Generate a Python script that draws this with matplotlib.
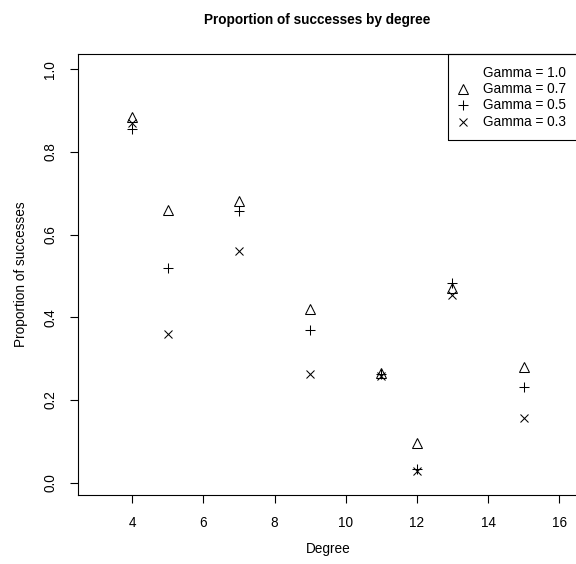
import matplotlib
matplotlib.use("Agg")
import matplotlib.pyplot as plt
from matplotlib.patches import Rectangle
from matplotlib.lines import Line2D

plt.rcParams['font.family'] = ['Liberation Sans', 'DejaVu Sans']

degrees = [4, 5, 7, 9, 11, 12, 13, 15]
gamma_07 = [0.885, 0.659, 0.680, 0.421, 0.265, 0.096, 0.470, 0.280]
gamma_05 = [0.855, 0.519, 0.658, 0.369, 0.262, 0.032, 0.483, 0.232]
gamma_03 = [0.870, 0.359, 0.559, 0.262, 0.258, 0.027, 0.453, 0.157]
legend_labels = ["Gamma = 1.0", "Gamma = 0.7", "Gamma = 0.5", "Gamma = 0.3"]
x_ticks = [4, 6, 8, 10, 12, 14, 16]
y_ticks = [0.0, 0.2, 0.4, 0.6, 0.8, 1.0]

W, H = 576, 564
fig = plt.figure(figsize=(W / 100, H / 100), dpi=100)
left, right, top, bottom = 78, 577.8, 54.3, 495
ax = fig.add_axes([left / W, 1 - bottom / H, (right - left) / W, (bottom - top) / H])

fs = 9.8
tri = dict(marker='^', ms=6.5, mfc='none')
plus = dict(marker='+', ms=7)
cross = dict(marker='x', ms=6)
ax.plot(degrees, gamma_07, linestyle='none', mec='black', mew=0.75, **tri)
ax.plot(degrees, gamma_05, linestyle='none', mec='black', mew=0.75, **plus)
ax.plot(degrees, gamma_03, linestyle='none', mec='black', mew=0.75, **cross)

ax.set_xlim(2.48, 16.52)
ax.set_ylim(-0.03, 1.036)
ax.set_xticks(x_ticks)
ax.set_xticklabels([str(t) for t in x_ticks], fontsize=fs)
ax.set_yticks(y_ticks)
ax.set_yticklabels([f"{t:.1f}" for t in y_ticks], fontsize=fs, rotation=90, va='center')
ax.tick_params(direction='out', length=6, width=0.8, pad=9)
for s in ax.spines.values():
    s.set_linewidth(0.8)

ax.set_xlabel("Degree", fontsize=fs, labelpad=9)
ax.set_ylabel("Proportion of successes", fontsize=fs, labelpad=11)
fig.text(317 / W, 1 - 20 / H, "Proportion of successes by degree",
         fontsize=fs, fontweight='bold', ha='center', va='center')

# legend box (R style)
fig.patches.append(Rectangle((447.5 / W, 1 - 140 / H), 140 / W, (140 - 54.3) / H,
                             transform=fig.transFigure, fill=False, ec='black', lw=0.8))
ys = [73, 89, 105, 121.7]
styles = [None, tri, plus, cross]
for lab, yy, st in zip(legend_labels, ys, styles):
    if st is not None:
        fig.add_artist(Line2D([463.3 / W], [1 - yy / H], transform=fig.transFigure,
                              linestyle='none', mec='black', mew=0.75, **st))
    fig.text(483 / W, 1 - yy / H, lab, fontsize=fs, ha='left', va='center')

fig.savefig("out.png", dpi=100)
